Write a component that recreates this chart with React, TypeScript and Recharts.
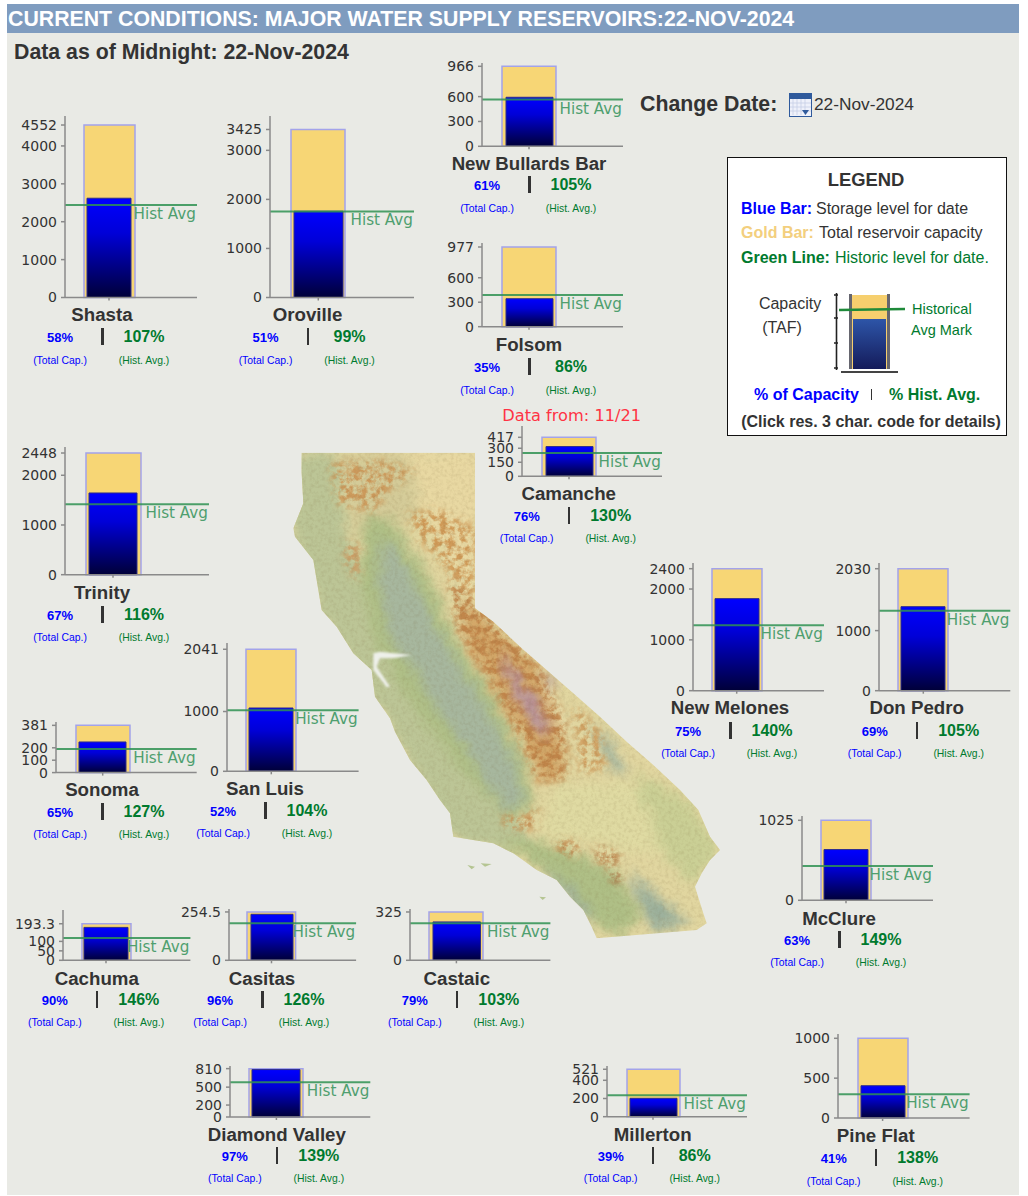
import React from "react";
import { ComposedChart, Bar, XAxis, YAxis, ReferenceLine } from "recharts";

// ─── Data (thousand acre-feet) ───────────────────────────────────────────────

const names = ["Shasta", "Oroville", "New Bullards Bar", "Folsom", "Camanche", "Trinity", "San Luis", "Sonoma", "New Melones", "Don Pedro", "McClure", "Cachuma", "Casitas", "Castaic", "Diamond Valley", "Millerton", "Pine Flat"];
const capacity = [4552, 3425, 966, 977, 417, 2448, 2041, 381, 2400, 2030, 1025, 193.3, 254.5, 325, 810, 521, 1000];
const storage = [2620, 1758, 592, 343, 318, 1644, 1059, 247, 1811, 1398, 650, 174, 242, 258, 794, 202, 405];
const histAvg = [2440, 1755, 564, 388, 249, 1415, 1020, 190, 1285, 1331, 440, 118, 195, 249, 581, 235, 297];
const yMax = [4790, 3700, 1006, 1026, 538, 2569, 2146, 408, 2512, 2125, 1080, 266, 270, 345, 854, 557, 1054];
const yTicks = [
  [0, 1000, 2000, 3000, 4000, 4552],
  [0, 1000, 2000, 3000, 3425],
  [0, 300, 600, 966],
  [0, 300, 600, 977],
  [0, 150, 300, 417],
  [0, 1000, 2000, 2448],
  [0, 1000, 2041],
  [0, 100, 200, 381],
  [0, 1000, 2000, 2400],
  [0, 1000, 2030],
  [0, 1025],
  [0, 50, 100, 193.3],
  [0, 254.5],
  [0, 325],
  [0, 200, 500, 810],
  [0, 200, 400, 521],
  [0, 500, 1000],
];
const pctCapacity = [58, 51, 61, 35, 76, 67, 52, 65, 75, 69, 63, 90, 96, 79, 97, 39, 41];
const pctHist = [107, 99, 105, 86, 130, 116, 104, 127, 140, 105, 149, 146, 126, 103, 139, 86, 138];

// ─── Layout, same order as the data above ────────────────────────────────────

// [axisX, plotTop, plotBottom, plotRight, barCenter, capacityWidth, storageWidth]
const plots = [
  [65, 116, 297.5, 197, 109, 51, 44],
  [270, 116, 297.5, 414, 318.3, 54, 49],
  [481.7, 62.7, 146, 622.7, 528.7, 54, 47],
  [481.7, 243.3, 327, 622.7, 528.7, 54, 47],
  [521.7, 425.7, 476, 661.7, 568.7, 54, 47],
  [65, 447.3, 575, 209, 113, 55, 48],
  [226.7, 642.7, 771, 358.3, 271, 50, 44],
  [56, 721.7, 772.3, 196.7, 102.7, 54, 47],
  [693.3, 563.3, 691, 824.3, 737, 50, 44],
  [879, 563.3, 691, 1010.3, 923.3, 50, 44],
  [802.3, 815.7, 900, 933.3, 846.3, 50, 44],
  [63, 910, 960.3, 190.4, 106, 49, 44],
  [229.3, 909, 960.3, 356.4, 271.8, 48.6, 42],
  [410, 909, 960.3, 550.4, 456.4, 54, 47.5],
  [230.4, 1065.7, 1116.7, 370.7, 276.8, 54, 48],
  [606.7, 1066, 1116.7, 746.7, 652.7, 53, 47],
  [837.7, 1034, 1118, 969.3, 882.3, 50, 44],
];
// [center x, name y, percent y, small print y]
const captions = [
  [102, 315, 337, 361],
  [307.5, 315, 337, 361],
  [529, 163.7, 185, 209],
  [529, 344.7, 367, 391],
  [568.7, 494.3, 516, 539],
  [102, 592.7, 615, 638],
  [265, 788.7, 811, 834],
  [102, 790, 812, 835],
  [730, 708, 731, 754],
  [916.7, 708, 731, 754],
  [839, 919, 940, 963],
  [96.8, 978.7, 1000, 1023],
  [262, 978.7, 1000, 1023],
  [456.8, 978.7, 1000, 1023],
  [276.8, 1134.7, 1156, 1179],
  [652.7, 1135, 1156, 1179],
  [875.7, 1136, 1158, 1182],
];

const BLUE = "#0000ff";
const GREEN = "#007a2e";
const INK = "#333333";
const GOLD = "#f7d675";
const SANS = "'Liberation Sans', Arial, sans-serif";
const DEJAVU = "'DejaVu Sans', sans-serif";

// ─── Helpers ─────────────────────────────────────────────────────────────────

function Txt({ x, y, size, color = INK, bold, anchor = "middle", family = SANS, children }: any) {
  const shift = anchor === "middle" ? "-50%" : "0";
  return (
    <div
      style={{
        position: "absolute",
        left: x,
        top: y,
        transform: `translate(${shift}, -50%)`,
        fontSize: size,
        color,
        fontWeight: bold ? 700 : 400,
        fontFamily: family,
        whiteSpace: "nowrap",
        lineHeight: 1,
      }}
    >
      {children}
    </div>
  );
}

// Sits just under the reference line, flush with the plot's right edge
function HistLabel({ viewBox }: any) {
  return (
    <text
      x={viewBox.x + viewBox.width - 1}
      y={viewBox.y + 14}
      textAnchor="end"
      fill="#4f9f6f"
      fontSize={15.2}
      fontFamily={DEJAVU}
    >
      Hist Avg
    </text>
  );
}

const LEFT_PAD = 50;
const TOP_PAD = 10;

function ReservoirChart({ i }: { i: number }) {
  const [axisX, top, bottom, right, center, capW, stW] = plots[i];
  const plotW = right - axisX;
  const padRight = plotW - 2 * (center - axisX);
  const row = [{ name: names[i], capacity: capacity[i], storage: storage[i] }];
  const gradId = `storageGrad${i}`;
  return (
    <div style={{ position: "absolute", left: axisX - LEFT_PAD, top: top - TOP_PAD }}>
      <ComposedChart
        width={plotW + LEFT_PAD + 2}
        height={bottom - top + TOP_PAD + 8}
        data={row}
        margin={{ top: TOP_PAD, right: 2, left: 0, bottom: 0 }}
      >
        <defs>
          <linearGradient id={gradId} x1="0" y1="0" x2="0" y2="1">
            <stop offset="0%" stopColor="#0000ff" />
            <stop offset="35%" stopColor="#0000d8" />
            <stop offset="100%" stopColor="#000038" />
          </linearGradient>
        </defs>
        <XAxis
          xAxisId="cap"
          dataKey="name"
          height={8}
          tickFormatter={() => ""}
          tickSize={3}
          stroke="#8a8a8a"
          strokeWidth={1.5}
          padding={{ left: 0, right: padRight }}
        />
        <XAxis xAxisId="st" dataKey="name" hide padding={{ left: 0, right: padRight }} />
        <YAxis
          type="number"
          width={LEFT_PAD}
          domain={[0, yMax[i]]}
          ticks={yTicks[i]}
          interval={0}
          tickSize={4}
          tickMargin={4}
          stroke="#8a8a8a"
          strokeWidth={1.5}
          tick={{ fill: INK, fontSize: 14, fontFamily: DEJAVU, stroke: "none" }}
        />
        <Bar
          xAxisId="cap"
          dataKey="capacity"
          barSize={capW}
          fill={GOLD}
          stroke="#a3a3ea"
          strokeWidth={1.5}
          isAnimationActive={false}
        />
        <Bar
          xAxisId="st"
          dataKey="storage"
          barSize={stW}
          fill={`url(#${gradId})`}
          stroke="#2c2c8c"
          strokeWidth={1}
          isAnimationActive={false}
        />
        <ReferenceLine
          xAxisId="cap"
          y={histAvg[i]}
          stroke="#2f9252"
          strokeOpacity={0.85}
          strokeWidth={2}
          label={{ content: HistLabel }}
        />
      </ComposedChart>
    </div>
  );
}

function Caption({ i }: { i: number }) {
  const [cx, nameY, pctY, smallY] = captions[i];
  return (
    <>
      <Txt x={cx} y={nameY} size={18.7} bold>{names[i]}</Txt>
      <Txt x={cx - 42} y={pctY} size={13} bold color={BLUE}>{pctCapacity[i]}%</Txt>
      <div style={{ position: "absolute", left: cx - 1, top: pctY - 9, width: 2.5, height: 17, background: INK }} />
      <Txt x={cx + 42} y={pctY} size={16} bold color={GREEN}>{pctHist[i]}%</Txt>
      <Txt x={cx - 42} y={smallY} size={10.4} color={BLUE}>(Total Cap.)</Txt>
      <Txt x={cx + 42} y={smallY} size={10.4} color={GREEN}>(Hist. Avg.)</Txt>
    </>
  );
}

// ─── Background relief map of California ─────────────────────────────────────

const OUTLINE =
  "M65,38 L585,38 L585,505 L640,545 L720,620 L800,690 L880,760 L960,830 L1040,905 L1120,975 L1200,1050 L1255,1110 L1290,1190 L1320,1230 L1290,1260 L1265,1300 L1245,1340 L1270,1420 L1280,1450 L1250,1470 L950,1495 L935,1460 L910,1410 L870,1370 L830,1320 L770,1290 L700,1240 L640,1210 L520,1190 L510,1120 L480,1080 L440,1020 L390,960 L345,875 L330,835 L285,770 L275,690 L220,640 L170,560 L125,510 L110,420 L100,360 L45,290 L40,265 L70,190 L65,100 Z";

function ReliefMap() {
  return (
    <svg
      width={450}
      height={510}
      viewBox="0 0 1350 1530"
      style={{ position: "absolute", left: 280, top: 440 }}
    >
      <defs>
        <clipPath id="caClip">
          <path d={OUTLINE} />
        </clipPath>
        <filter id="rugged" x="-10%" y="-10%" width="120%" height="120%" colorInterpolationFilters="sRGB">
          <feGaussianBlur in="SourceGraphic" stdDeviation="16" result="soft" />
          <feTurbulence type="fractalNoise" baseFrequency="0.02" numOctaves="3" seed="7" result="noise" />
          <feDisplacementMap in="soft" in2="noise" scale="40" xChannelSelector="R" yChannelSelector="G" />
        </filter>
        {/* mottled ridges: the soft shape is let through a noise mask */}
        <filter id="patchy" x="-5%" y="-5%" width="110%" height="110%" colorInterpolationFilters="sRGB">
          <feGaussianBlur in="SourceGraphic" stdDeviation="12" result="soft" />
          <feTurbulence type="fractalNoise" baseFrequency="0.05" numOctaves="4" seed="11" />
          <feColorMatrix values="0 0 0 0 0  0 0 0 0 0  0 0 0 0 0  3.5 0 0 0 -1.35" result="mask" />
          <feComposite in="soft" in2="mask" operator="in" />
        </filter>
        <filter id="grain" x="0" y="0" width="100%" height="100%" colorInterpolationFilters="sRGB">
          <feTurbulence type="fractalNoise" baseFrequency="0.09" numOctaves="3" seed="3" />
          <feColorMatrix values="0 0 0 0 0.45  0 0 0 0 0.36  0 0 0 0 0.2  2 0 0 0 -0.85" />
        </filter>
        <filter id="soften" x="-10%" y="-10%" width="120%" height="120%">
          <feGaussianBlur stdDeviation="3" />
        </filter>
      </defs>
      <g clipPath="url(#caClip)">
        <rect width="1350" height="1530" fill="#e1d6a0" />
        <g filter="url(#rugged)">
          {/* coast ranges */}
          <path d="M30,40 L170,40 L190,200 L240,420 L330,600 L460,800 L600,1010 L700,1130 L760,1200 L640,1230 L500,1190 L340,880 L120,520 L30,280 Z" fill="#bcc596" />
          {/* north interior */}
          <path d="M170,40 L400,40 L420,240 L300,260 L230,300 Z" fill="#d4cb98" />
          <path d="M380,40 L590,40 L590,520 L520,380 L440,240 Z" fill="#e8d8a2" />
          {/* green foothills round the valley */}
          <path d="M255,230 L335,240 L440,400 L530,600 L650,780 L740,980 L770,1090 L700,1140 L560,1010 L400,800 L290,620 L240,420 Z" fill="#afbf86" />
          {/* central valley */}
          <path d="M300,300 L345,320 L400,425 L470,565 L540,685 L620,805 L700,955 L740,1085 L680,1110 L610,1010 L540,900 L450,780 L400,680 L330,600 L300,450 Z" fill="#a7b79e" />
          {/* sierra nevada */}
          <path d="M540,480 L590,510 L720,630 L790,700 L850,860 L850,1010 L780,1020 L720,880 L640,740 L560,610 Z" fill="#d3a768" />
          {/* owens valley and range */}
          <path d="M785,680 L825,770 L870,900 L835,880 L795,770 Z" fill="#e6d6a4" />
          <path d="M930,850 L990,900 L1040,1010 L990,985 Z" fill="#a1b49f" />
          {/* mojave */}
          <path d="M830,1030 L1050,1030 L1200,1100 L1240,1230 L1100,1240 L780,1180 Z" fill="#dfdaa2" />
          <path d="M1060,1000 L1220,1070 L1320,1230 L1240,1340 L1150,1240 Z" fill="#cacf95" />
          {/* south coast */}
          <path d="M640,1195 L820,1210 L1000,1290 L1090,1420 L1030,1490 L930,1440 L820,1310 Z" fill="#afbf86" />
          <path d="M780,1275 L880,1350 L950,1440 L900,1425 L820,1330 Z" fill="#9db19b" />
          <path d="M1040,1300 L1120,1360 L1230,1450 L1120,1470 Z" fill="#9bb09c" />
        </g>
        <g filter="url(#patchy)">
          {/* north mountains */}
          <path d="M150,70 L300,60 L410,90 L330,150 L280,220 L170,190 Z" fill="#cc9a5c" />
          <path d="M190,300 L240,310 L240,420 L200,390 Z" fill="#c99a62" />
          <path d="M380,220 L480,210 L585,260 L585,480 L500,390 L420,300 Z" fill="#cf9a58" />
          {/* sierra streaks */}
          <path d="M500,400 L590,490 L720,620 L800,710 L860,860 L860,1020 L770,1020 L700,860 L620,710 L530,570 Z" fill="#c0854a" />
          <path d="M880,790 L960,870 L980,990 L900,1000 Z" fill="#cf9f60" />
          <path d="M660,1125 L730,1130 L780,1100 L760,1170 L680,1165 Z" fill="#c88f52" />
          <path d="M830,1200 L900,1205 L895,1250 L835,1240 Z" fill="#c0854a" />
          <path d="M945,1215 L1025,1240 L1000,1285 L950,1265 Z" fill="#b87c44" />
          <path d="M985,1290 L1030,1300 L1020,1335 L990,1325 Z" fill="#a87444" />
        </g>
        {/* high sierra */}
        <g filter="url(#rugged)" opacity="0.9">
          <path d="M665,640 L700,690 L725,730 L770,785 L815,880 L785,885 L720,790 L675,700 Z" fill="#b493ab" />
          <path d="M795,690 L830,730 L815,760 Z" fill="#ab8c9c" />
        </g>
        <rect width="1350" height="1530" filter="url(#grain)" opacity="0.14" />
      </g>
      {/* san francisco bay and islands */}
      <path d="M280,640 L300,635 L395,645 L340,655 L300,655 L290,680 L330,740 L320,742 L280,690 Z" fill="#eef0ea" filter="url(#soften)" />
      <path d="M562,1275 L585,1280 L575,1288 Z M602,1270 L635,1272 L615,1280 Z M778,1370 L798,1372 L788,1380 Z" fill="#b5c592" />
    </svg>
  );
}

// ─── Legend box ──────────────────────────────────────────────────────────────

function LegendBox() {
  return (
    <>
      <div
        style={{
          position: "absolute",
          left: 727,
          top: 157,
          width: 278,
          height: 277,
          background: "#ffffff",
          border: "1.5px solid #111111",
        }}
      />
      <Txt x={866} y={180} size={18.4} bold>LEGEND</Txt>
      <Txt x={741} y={209} size={16} bold color={BLUE} anchor="start">Blue Bar:</Txt>
      <Txt x={816} y={209} size={16} anchor="start">Storage level for date</Txt>
      <Txt x={741} y={233} size={16} bold color="#f3cf7e" anchor="start">Gold Bar:</Txt>
      <Txt x={819} y={233} size={16} anchor="start">Total reservoir capacity</Txt>
      <Txt x={741} y={258} size={16} bold color={GREEN} anchor="start">Green Line:</Txt>
      <Txt x={835} y={258} size={16} color={GREEN} anchor="start">Historic level for date.</Txt>
      <Txt x={790} y={304} size={16}>Capacity</Txt>
      <Txt x={782} y={328} size={16}>(TAF)</Txt>
      <svg width={100} height={100} style={{ position: "absolute", left: 830, top: 285 }}>
        <defs>
          <linearGradient id="legendBar" x1="0" y1="0" x2="0" y2="1">
            <stop offset="0%" stopColor="#2d55a8" />
            <stop offset="100%" stopColor="#141b5a" />
          </linearGradient>
        </defs>
        <path d="M6.5,8 V85 M4,10 H8 M4,33 H8 M4,58 H8 M4,83 H8" stroke="#222" strokeWidth={1.6} fill="none" />
        <rect x={20} y={10} width={39} height={74} fill="#f6cf6e" />
        <rect x={23} y={34} width={33} height={50} fill="url(#legendBar)" />
        <path d="M20.5,9 V84 M58.5,9 V84" stroke="#66666f" strokeWidth={3} />
        <line x1={11} y1={87} x2={68} y2={87} stroke="#444" strokeWidth={2} />
        <line x1={9} y1={25} x2={75} y2={24} stroke="#1f8a3a" strokeWidth={2.5} />
      </svg>
      <Txt x={912} y={309} size={14.5} color={GREEN} anchor="start">Historical</Txt>
      <Txt x={911} y={330} size={14.5} color={GREEN} anchor="start">Avg Mark</Txt>
      <Txt x={754} y={395} size={16} bold color={BLUE} anchor="start">% of Capacity</Txt>
      <div style={{ position: "absolute", left: 871, top: 389, width: 1, height: 11, background: INK }} />
      <Txt x={889} y={395} size={16} bold color={GREEN} anchor="start">% Hist. Avg.</Txt>
      <Txt x={871} y={422} size={16} bold>(Click res. 3 char. code for details)</Txt>
    </>
  );
}

function CalendarIcon() {
  return (
    <svg width={23} height={24} style={{ position: "absolute", left: 789, top: 93 }}>
      <rect x={0.5} y={0.5} width={22} height={23} fill="#eef1fa" stroke="#2f5a9c" />
      <rect x={0} y={0} width={23} height={6} fill="#2f5a9c" />
      <path d="M4,6 V22 M8,6 V22 M12,6 V22 M16,6 V22 M1,10 H22 M1,14 H22 M1,18 H22" stroke="#c5cfe6" strokeWidth={0.8} />
      <path d="M13,17 H20 L16.5,22 Z" fill="#2f5a9c" />
    </svg>
  );
}

// ─── Page ────────────────────────────────────────────────────────────────────

export default function App() {
  return (
    <div style={{ position: "absolute", left: 0, top: 0, width: 1028, height: 1196, background: "#ffffff", overflow: "hidden" }}>
      <div style={{ position: "absolute", left: 7, top: 4, width: 1012, height: 1191, background: "#e9eae5" }} />
      <div style={{ position: "absolute", left: 7, top: 4, width: 1012, height: 29, background: "#7f9cbf" }} />
      <Txt x={8} y={20} size={21.3} bold color="#ffffff" anchor="start">
        CURRENT CONDITIONS: MAJOR WATER SUPPLY RESERVOIRS:22-NOV-2024
      </Txt>
      <Txt x={14} y={53} size={21.3} bold anchor="start">Data as of Midnight: 22-Nov-2024</Txt>
      <Txt x={640} y={105} size={21.3} bold anchor="start">Change Date:</Txt>
      <CalendarIcon />
      <Txt x={814} y={105} size={17.3} anchor="start">22-Nov-2024</Txt>
      <ReliefMap />
      <LegendBox />
      <Txt x={571.7} y={415.5} size={16.2} color="#ff3344" family={DEJAVU}>Data from: 11/21</Txt>
      {names.map((name, i) => (
        <React.Fragment key={name}>
          <ReservoirChart i={i} />
          <Caption i={i} />
        </React.Fragment>
      ))}
    </div>
  );
}
